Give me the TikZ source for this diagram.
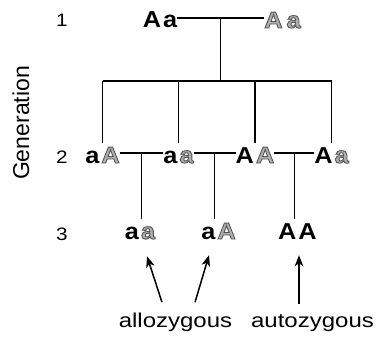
\documentclass[tikz,border=0pt]{standalone}
\usepackage{fontspec}
\setmainfont{Liberation Sans}
\usetikzlibrary{arrows.meta,calc}
\definecolor{olf}{RGB}{175,175,175}
\newcommand\og[1]{{\color{olf}\special{pdf:literal direct 2 Tr 0.9 w 0.33 0.33 0.33 RG}#1\special{pdf:literal direct 0 Tr}}}
\newcommand\gp{\hspace{2pt}}
\begin{document}
\begin{tikzpicture}[x=1pt,y=-1pt,
  geno/.style={anchor=base,inner sep=0pt,text height=20pt,text depth=0pt,
    font=\fontsize{23}{23}\bfseries\addfontfeature{FakeStretch=1.1}},
  gnum/.style={anchor=base,inner sep=0pt,font=\fontsize{18}{18}\selectfont\addfontfeature{FakeStretch=1.15}},
  lbl/.style={anchor=base,inner sep=0pt,font=\fontsize{20}{20}\selectfont\addfontfeature{FakeStretch=1.2}},
  ln/.style={line width=1.3pt,black},
  arr/.style={line width=1.5pt,-{Stealth[length=11pt,width=8.5pt,inset=3pt]}}]
\useasboundingbox (0,0) rectangle (380,337);
% generation axis
\node[font=\fontsize{23}{23}\selectfont,rotate=90,inner sep=0pt] (gen) at (21,123) {Generation};
\node[gnum] (n1) at (62,27) {1};
\node[gnum] (n2) at (62,163) {2};
\node[gnum] (n3) at (62,240) {3};
% generation 1
\node[geno] (P1) at (160,28) {A\gp{}a};
\node[geno] (P2) at (282.5,28) {\og{A}\hspace{4pt}\og{a}};
% generation 2
\node[geno] (c1) at (102.5,163) {a\gp\og{A}};
\node[geno] (c2) at (178.5,163) {a\gp\og{a}};
\node[geno] (c3) at (255,163) {A\gp\og{A}};
\node[geno] (c4) at (331.5,163) {A\gp\og{a}};
% generation 3
\node[geno] (d1) at (140,239) {a\gp\og{a}};
\node[geno] (d2) at (218.5,239) {a\gp\og{A}};
\node[geno] (d3) at (297.5,239) {A\gp{}A};
% labels
\node[lbl] (allo) at (175.5,327) {allozygous};
\node[lbl] (auto) at (312.5,327) {autozygous};
% gen 1 mating and sibship
\draw[ln] (P1.east) -- (P2.west) coordinate[pos=0.5] (m1);
\coordinate (sib) at ($(m1)+(0,63)$);
\draw[ln] (m1) -- (sib);
\draw[ln] (c1.north |- sib) -- (c4.north |- sib);
\foreach \c in {c1,c2,c3,c4}{\draw[ln] (\c.north |- sib) -- (\c.north);}
% gen 2 matings
\draw[ln] (c1.east) -- (c2.west) coordinate[pos=0.5] (m2);
\draw[ln] (c2.east) -- (c3.west) coordinate[pos=0.5] (m3);
\draw[ln] (c3.east) -- (c4.west) coordinate[pos=0.5] (m4);
\draw[ln] (m2) -- (m2 |- d1.north);
\draw[ln] (m3) -- (m3 |- d2.north);
\draw[ln] (m4) -- (m4 |- d3.north);
% arrows
\coordinate (t1) at ($(allo.north)+(-13.5,-10)$);
\coordinate (t2) at ($(allo.north)+(19.5,-10)$);
\coordinate (t3) at ($(auto.north)+(-13.5,-10)$);
\draw[arr] (t1) -- ($(d1.south)+(7,17)$);
\draw[arr] (t2) -- ($(d2.south)+(-9.5,16)$);
\draw[arr] (t3) -- ($(t3 |- d3.south)+(0,16)$);
\end{tikzpicture}
\end{document}
